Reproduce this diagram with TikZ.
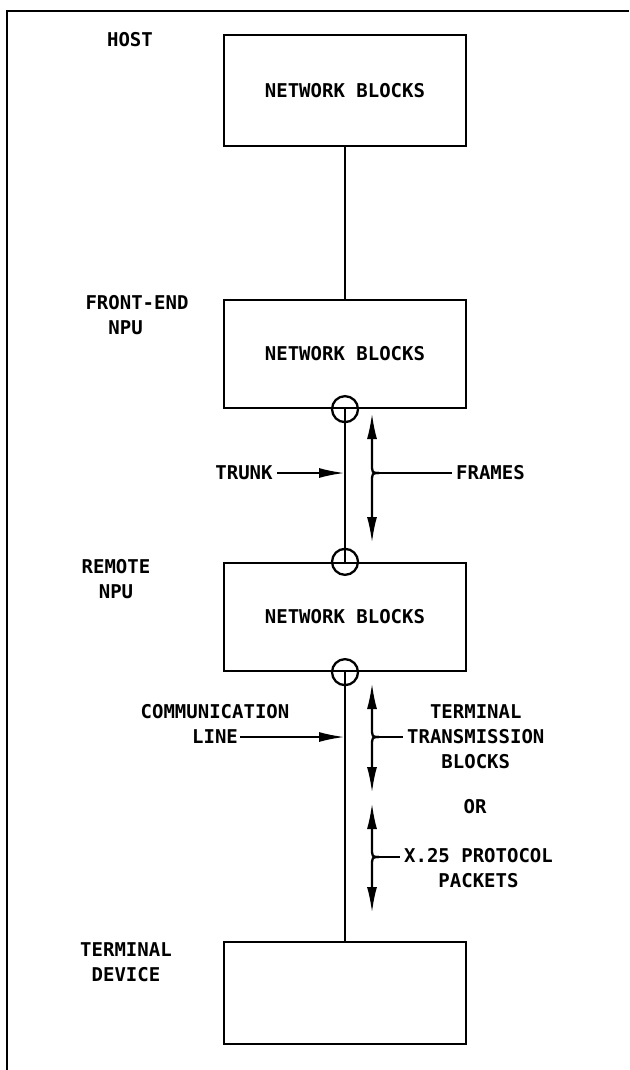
\documentclass[tikz,border=0pt]{standalone}
\usepackage{fontspec}
\setmainfont{DejaVu Sans Mono}
\usetikzlibrary{arrows.meta,positioning}
\tikzset{
	netbox/.style={draw, minimum width=242pt, minimum height=108pt},
	port/.style={draw, circle, minimum size=26pt, inner sep=0pt},
	lbl/.style={align=center, inner sep=3pt},
	arr/.style={-{Latex[length=26pt,width=10pt]}}
}
\begin{document}
\begin{tikzpicture}[x=1pt, y=-1pt, line width=2.3pt, font=\fontsize{19}{25}\selectfont\bfseries]
		\useasboundingbox (0,0) rectangle (629,1070);
		\draw (7,1070) -- (7,11) -- (629,11);
		% Blocks along the path
		\node[netbox, minimum height=111pt] (host) at (345,90.5) {NETWORK BLOCKS};
		\node[netbox] (fep) at (345,354) {NETWORK BLOCKS};
		\node[netbox] (rem) at (345,617) {NETWORK BLOCKS};
		\node[netbox, minimum height=102pt] (term) at (345,993) {};
		\node[port] (fps) at (fep.south) {};
		\node[port] (rmn) at (rem.north) {};
		\node[port] (rms) at (rem.south) {};
		\draw (host) -- (fep);
		\draw (fep.south) -- (rem.north);
		\draw (rem.south) -- (term.north);
		% Names on the left
		\node[lbl] (hostl) at (130,40) {HOST};
		\node[lbl, align=left] (fepl) at (137,315) {FRONT-END\\\hphantom{FR}NPU};
		\node[lbl] (reml) at (116,579) {REMOTE\\NPU};
		\node[lbl] (terml) at (126,962) {TERMINAL\\DEVICE};
		% Line labels
		\node[lbl] (trunk) at (244,473) {TRUNK};
		\node[lbl] (comm) at (215,724) {COMMUNICATION\\LINE};
		\coordinate (cl) at (240,737);
		\draw[arr] (trunk.east) -- (trunk.east -| fep.south);
		\draw[arr] (cl) -- (cl -| rem.south);
		% Traffic on the right
		\node[lbl, anchor=west] (frames) at (452,473) {FRAMES};
		\node[lbl, anchor=west] (ttb) at (403,737) {TERMINAL\\TRANSMISSION\\BLOCKS};
		\node[lbl] (orl) at (475,807) {OR};
		\node[lbl, anchor=west] (x25) at (400,868) {X.25 PROTOCOL\\PACKETS};
		\foreach \n/\j/\t/\b in {fr/473/413/543, tt/737/683/793, xp/857/803/913} {
			\coordinate (\n) at (379,\j);
			\draw[arr] (\n) .. controls (372,\j) .. (372,\j-10) -- (372,\t);
			\draw[arr] (\n) .. controls (372,\j) .. (372,\j+10) -- (372,\b);
		}
		\draw (fr) -- (frames.west);
		\draw (tt) -- (tt -| ttb.west);
		\draw (xp) -- (xp -| x25.west);
	\end{tikzpicture}
\end{document}
